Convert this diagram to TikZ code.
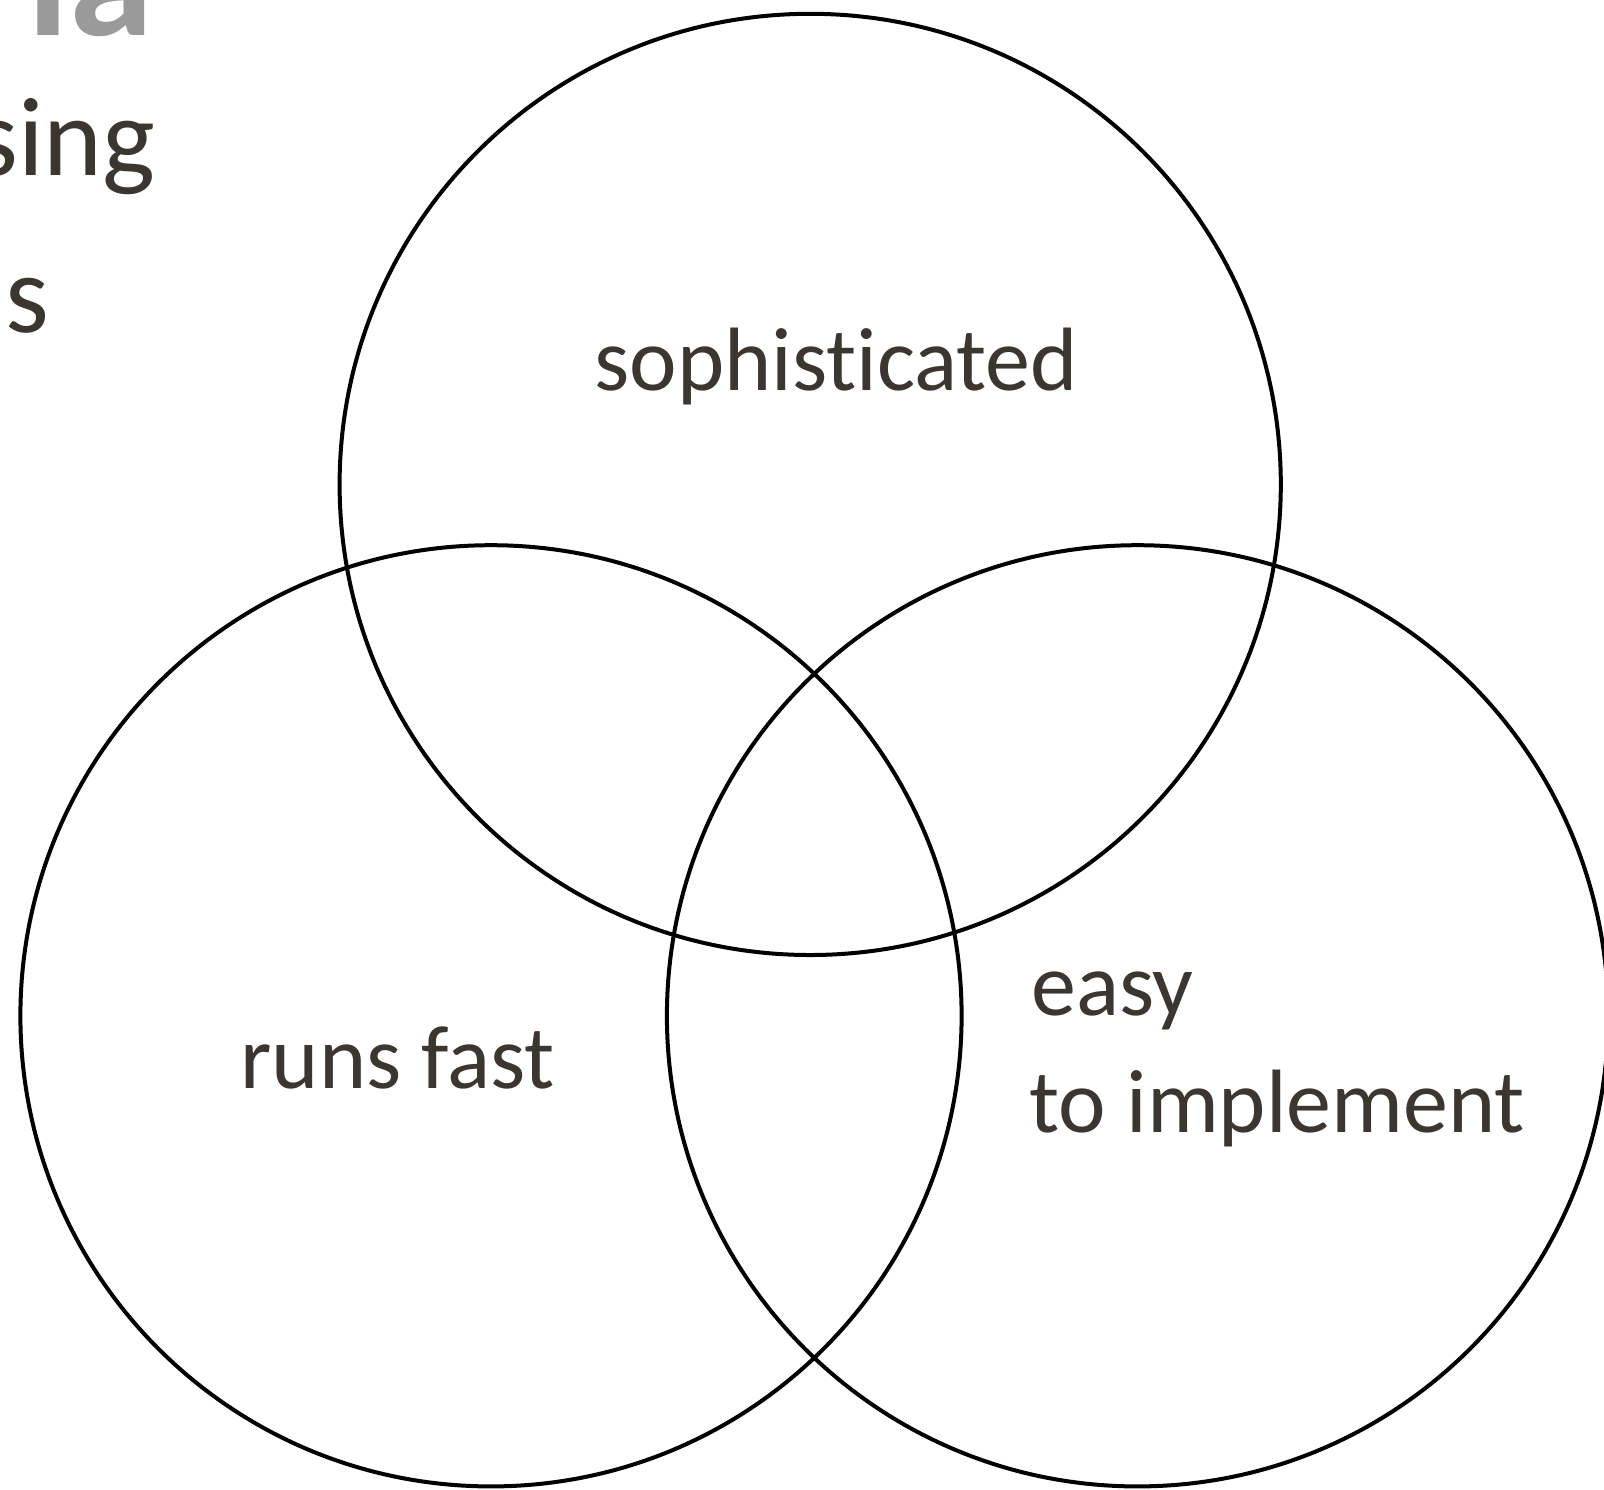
\documentclass[tikz,border=0pt]{standalone}
\usepackage{fontspec}
\setmainfont[Ligatures={NoCommon}]{Carlito}
\definecolor{ink}{HTML}{3B3630}
\definecolor{titlegrey}{HTML}{9A9A9A}
\begin{document}
\begin{tikzpicture}[x=0.5pt,y=-0.5pt,
  setring/.style={draw=black,line width=2pt},
  label/.style={text=ink,font=\fontsize{45}{56}\selectfont,inner sep=0pt},
  heading/.style={text=ink,font=\fontsize{56}{70}\selectfont,inner sep=0pt}]
\useasboundingbox (0,0) rectangle (1604,1489);
\clip (0,0) rectangle (1604,1489);
% three overlapping sets
\draw[setring] (810.2,484.4) circle[radius=470.6];
\draw[setring] (491.0,1015.8) circle[radius=470.6];
\draw[setring] (1137.5,1015.8) circle[radius=470.6];
% set labels
\node[label,anchor=base west] (soph) at (594,390) {sophisticated};
\node[label,anchor=base west] (fast) at (240,1088) {runs fast};
\node[label,anchor=base west] (easy) at (1031,1015) {easy};
\node[label,anchor=base west] (impl) at (1029,1132) {to implement};
% heading text running in from the left edge
\node[text=titlegrey,font=\fontsize{85}{100}\selectfont\bfseries,inner sep=0pt,anchor=base east] (h1) at (154,35) {ia};
\node[heading,anchor=base east] (h2) at (156,175) {sing};
\node[heading,anchor=base east] (h3) at (50,332) {s};
\end{tikzpicture}
\end{document}
